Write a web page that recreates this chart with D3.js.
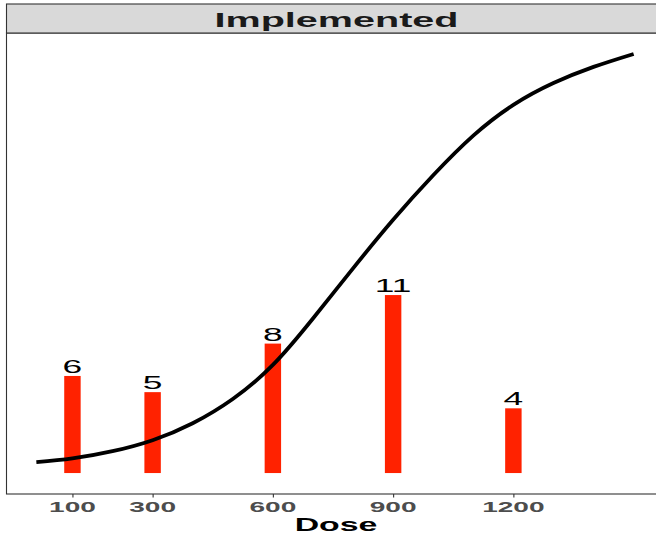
<!DOCTYPE html>
<html>
<head>
<meta charset="utf-8">
<script src="https://cdn.jsdelivr.net/npm/d3@7"></script>
<style>
  html, body { margin: 0; padding: 0; background: #ffffff; }
  svg { display: block; }
  text { font-family: "Liberation Sans", Arial, sans-serif; }
</style>
</head>
<body>
<svg id="chart" width="656" height="534"></svg>
<script>
// ---- data ----
const facetTitle = "Implemented";
const xTitle = "Dose";
const barDoses = [100, 300, 600, 900, 1200];
const barCounts = [6, 5, 8, 11, 4];
const tickValues = [100, 300, 600, 900, 1200];
const tickLabels = ["100", "300", "600", "900", "1200"];
const curveDoses = [10, 100, 200, 300, 400, 500, 600, 700, 800, 900, 1000, 1100, 1200, 1300, 1400, 1500];
const curveValues = [0.67, 0.9, 1.35, 2.03, 3.08, 4.58, 6.68, 9.55, 12.65, 15.65, 18.4, 20.85, 22.75, 24.1, 25.1, 25.9];

// ---- layout ----
const svg = d3.select("#chart");
const panel = { left: 6.5, right: 663.5, top: 33, bottom: 494 };
const stripTop = 4;

const xMin = d3.min(curveDoses), xMax = d3.max(curveDoses);
const xPad = (xMax - xMin) * 0.05;
const x = d3.scaleLinear().domain([xMin - xPad, xMax + xPad]).range([panel.left, panel.right]);

const yMax = d3.max([d3.max(curveValues), d3.max(barCounts)]);
const yPad = yMax * 0.05;
const y = d3.scaleLinear().domain([-yPad, yMax + yPad]).range([panel.bottom, panel.top]);

function stretchedText(g, tx, ty, str, opts) {
  return g.append("text")
    .attr("transform", `translate(${tx},${ty}) scale(${opts.sx},1)`)
    .attr("text-anchor", "middle")
    .attr("font-size", opts.size)
    .attr("font-weight", opts.weight || "normal")
    .attr("fill", opts.fill || "#000")
    .text(str);
}

// panel background + border
svg.append("rect")
  .attr("x", panel.left).attr("y", panel.top)
  .attr("width", panel.right - panel.left).attr("height", panel.bottom - panel.top)
  .attr("fill", "#ffffff").attr("stroke", "#333333").attr("stroke-width", 1.1);

// strip
svg.append("rect")
  .attr("x", panel.left).attr("y", stripTop)
  .attr("width", panel.right - panel.left).attr("height", panel.top - stripTop)
  .attr("fill", "#d9d9d9").attr("stroke", "#333333").attr("stroke-width", 1.1);
stretchedText(svg, (panel.left + panel.right) / 2 + 1.5, 27.3, facetTitle,
  { size: 20.5, weight: "bold", fill: "#1a1a1a", sx: 1.93 });

// bars
const barHalf = 20.5;
svg.append("g").selectAll("rect").data(barDoses).enter().append("rect")
  .attr("x", (d) => x(d - barHalf))
  .attr("width", (d) => x(d + barHalf) - x(d - barHalf))
  .attr("y", (d, i) => y(barCounts[i]))
  .attr("height", (d, i) => y(0) - y(barCounts[i]))
  .attr("fill", "#ff2200");

// bar labels
barDoses.forEach((d, i) => {
  stretchedText(svg, x(d), y(barCounts[i]) - 3, String(barCounts[i]),
    { size: 18.6, fill: "#000", sx: 1.9 });
});

// curve
const line = d3.line()
  .x((d) => x(d[0]))
  .y((d) => y(d[1]))
  .curve(d3.curveNatural);
svg.append("path")
  .datum(curveDoses.map((d, i) => [d, curveValues[i]]))
  .attr("d", line)
  .attr("fill", "none")
  .attr("stroke", "#000")
  .attr("stroke-width", 3.8)
  .attr("stroke-linecap", "butt");

// x axis
const axis = d3.axisBottom(x).tickValues(tickValues).tickSize(3.5).tickPadding(2).tickFormat("");
const ag = svg.append("g").attr("transform", `translate(0,${panel.bottom})`).call(axis);
ag.select(".domain").remove();
ag.selectAll(".tick line").attr("stroke", "#333333").attr("stroke-width", 1.1);
tickValues.forEach((v, i) => {
  stretchedText(svg, x(v), 512.3, tickLabels[i],
    { size: 15, weight: "bold", fill: "#4d4d4d", sx: 1.87 });
});

// x title
stretchedText(svg, (panel.left + panel.right) / 2 + 1, 531, xTitle,
  { size: 18, weight: "bold", fill: "#000", sx: 1.88 });
</script>
</body>
</html>
